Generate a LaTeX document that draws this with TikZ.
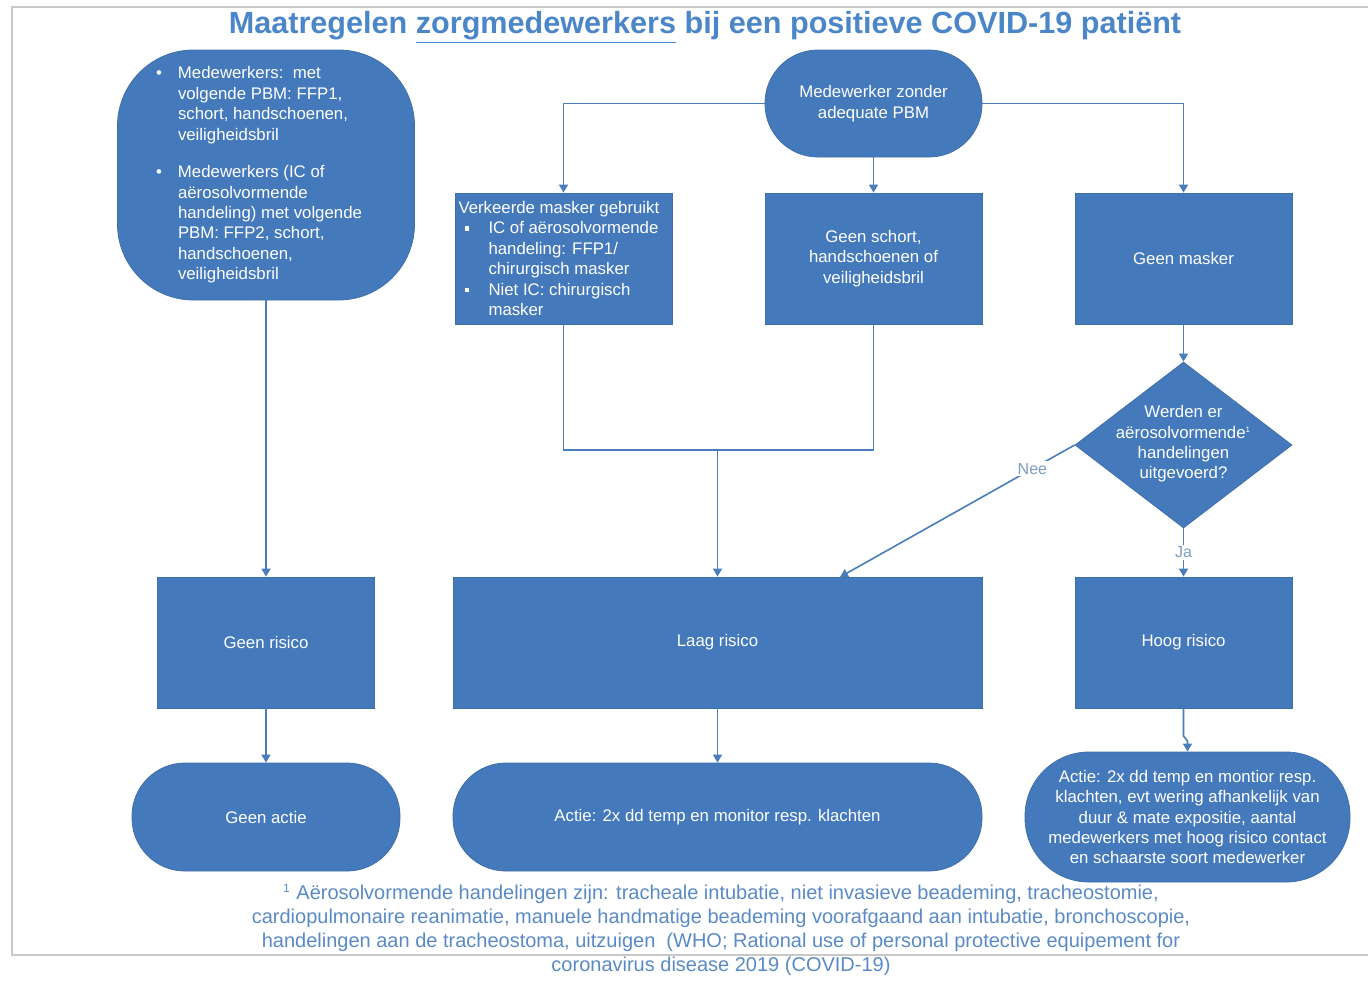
\documentclass[tikz,border=0pt]{standalone}
\usepackage{fontspec}
\setmainfont{Liberation Sans}
\usetikzlibrary{shapes.geometric,arrows.meta}
\definecolor{boxblue}{HTML}{4479BB}
\definecolor{boxedge}{HTML}{3F6FAA}
\definecolor{lineblue}{HTML}{4A7EBB}
\definecolor{titleblue}{HTML}{4A86C8}
\definecolor{noteblue}{HTML}{5A8AC6}
\definecolor{lblgray}{HTML}{7E9CC0}
\definecolor{framegray}{HTML}{C8C8C8}
\newcommand{\sqbul}{\raisebox{1.6pt}{\rule{2.2pt}{2.2pt}}}
\begin{document}
\begin{tikzpicture}[x=0.5pt,y=-0.5pt,
  every node/.style={font=\fontsize{8.4}{10.2}\selectfont},
  base/.style={fill=boxblue, draw=boxedge, line width=0.4pt, text=white, inner sep=0pt, align=center},
  boxnode/.style={base, rectangle, minimum width=108.5pt, minimum height=65.5pt},
  stadium/.style={base, rectangle, rounded corners=26.5pt, minimum height=54pt},
  conn/.style={draw=lineblue, line width=0.8pt, -{Triangle[width=4.5pt,length=4pt]}},
  plain/.style={draw=lineblue, line width=0.8pt},
  lbl/.style={fill=white, text=lblgray, inner sep=1pt, font=\fontsize{8}{9}\selectfont},
  frame/.style={draw=framegray, line width=1.2pt}
]
\useasboundingbox (0,0) rectangle (1368,981);
\draw[frame] (1368,7) -- (12,7) -- (12,955) -- (1368,955);

\node[text=titleblue, anchor=base, font=\fontsize{15.3}{18}\bfseries\selectfont] (title) at (705,33)
  {Maatregelen \underline{zorgmedewerkers} bij een positieve COVID-19 patiënt};

% left rounded box
\node[base, rectangle, rounded corners=38pt, minimum width=148.5pt, minimum height=125pt] (a) at (266,175)
  {\parbox{110pt}{\raggedright
   \makebox[11pt][l]{\textbullet}\parbox[t]{99pt}{\raggedright Medewerkers:~~met\\volgende PBM: FFP1,\\schort, handschoenen,\\veiligheidsbril}\par
   \vspace{10pt}
   \makebox[11pt][l]{\textbullet}\parbox[t]{99pt}{\raggedright Medewerkers (IC of\\aërosolvormende\\handeling) met volgende\\PBM: FFP2, schort,\\handschoenen,\\veiligheidsbril}}};

\node[stadium, minimum width=108.5pt, minimum height=53.5pt] (b) at (873.5,103.5)
  {Medewerker zonder\\adequate PBM};

\node[boxnode] (c) at (563.5,258.5)
  {\parbox{105pt}{\raggedright Verkeerde masker gebruikt\\
   \makebox[15pt][l]{\hspace*{3pt}\sqbul}IC of aërosolvormende\\
   \hspace*{15pt}handeling: FFP1/\\
   \hspace*{15pt}chirurgisch masker\\
   \makebox[15pt][l]{\hspace*{3pt}\sqbul}Niet IC: chirurgisch\\
   \hspace*{15pt}masker}};

\node[boxnode] (d) at (873.5,258.5) {Geen schort,\\handschoenen of\\veiligheidsbril};
\node[boxnode] (e) at (1183.5,258.5) {Geen masker};

\node[base, diamond, minimum width=108.5pt, minimum height=83pt] (f) at (1183.5,445) {};
\node[text=white, align=center] (ftext) at (1183.5,444)
  {Werden er\\aërosolvormende\textsuperscript{\fontsize{4}{4}\selectfont 1}\\handelingen\\uitgevoerd?};

\node[boxnode] (g) at (266,642.5) {Geen risico};
\node[boxnode, minimum width=264.5pt] (h) at (717.5,642.5) {Laag risico};
\node[boxnode] (i) at (1183.5,642.5) {Hoog risico};

\node[stadium, minimum width=134pt] (j) at (266,817) {Geen actie};
\node[stadium, minimum width=264.5pt] (k) at (717.5,817) {Actie: 2x dd temp en monitor resp. klachten};
\node[stadium, rounded corners=32pt, minimum width=162.5pt, minimum height=65pt] (l) at (1187.5,817)
  {Actie: 2x dd temp en montior resp.\\klachten, evt wering afhankelijk van\\duur \& mate expositie, aantal\\medewerkers met hoog risico contact\\en schaarste soort medewerker};

% connectors
\draw[conn] (a.south) -- (g.north);
\draw[conn] (g.south) -- (j.north);
\draw[conn] (b.west) -| (c.north);
\draw[conn] (b.south) -- (d.north);
\draw[conn] (b.east) -| (e.north);
\draw[conn] (e.south) -- (f.north);
\coordinate (m) at (717.5,450);
\draw[plain] (c.south) |- (m);
\draw[plain] (d.south) |- (m);
\draw[conn] (m) -- (h.north);
\coordinate (hn) at (840,577);
\draw[conn] (f.west) -- node[lbl, pos=0.18] (nee) {Nee} (hn);
\draw[conn] (f.south) -- node[lbl] (ja) {Ja} (i.north);
\draw[conn] (h.south) -- (k.north);
\coordinate (j1) at (1183.5,736);
\coordinate (j2) at (1187.5,741);
\draw[conn] (i.south) -- (j1) -- (j2) -- (l.north);

\node[text=noteblue, align=center, font=\fontsize{10}{12}\selectfont] (note) at (721,930)
  {\textsuperscript{\fontsize{6}{6}\selectfont 1} Aërosolvormende handelingen zijn: tracheale intubatie, niet invasieve beademing, tracheostomie,\\
   cardiopulmonaire reanimatie, manuele handmatige beademing voorafgaand aan intubatie, bronchoscopie,\\
   handelingen aan de tracheostoma, uitzuigen~~(WHO; Rational use of personal protective equipement for\\
   coronavirus disease 2019 (COVID-19)};
\end{tikzpicture}
\end{document}
